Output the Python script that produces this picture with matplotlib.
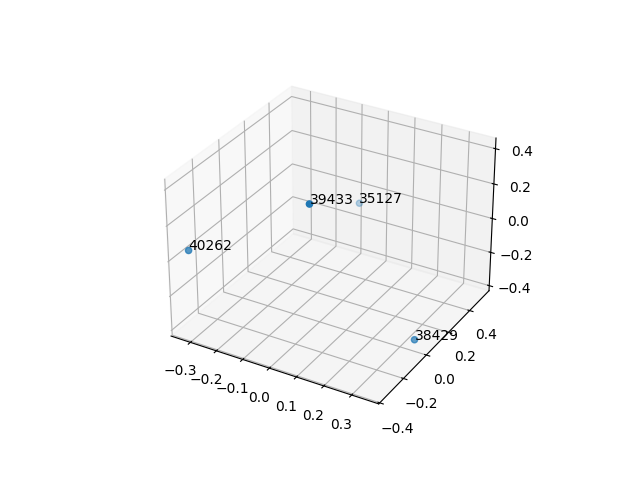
import numpy as np
import matplotlib.pyplot as plt

labels = ['40262', '39433', '35127', '38429']
xs = [-0.326, 0.0635, -0.08, 0.347]
ys = [-0.345, -0.216, 0.525, 0.013]
zs = [0.05, 0.403, -0.078, -0.374]

fig = plt.figure()
ax = fig.add_subplot(projection='3d')
ax.scatter(xs, ys, zs)
for i in range(len(labels)):
    ax.text(xs[i], ys[i], zs[i], labels[i])

plt.savefig('out.png')
